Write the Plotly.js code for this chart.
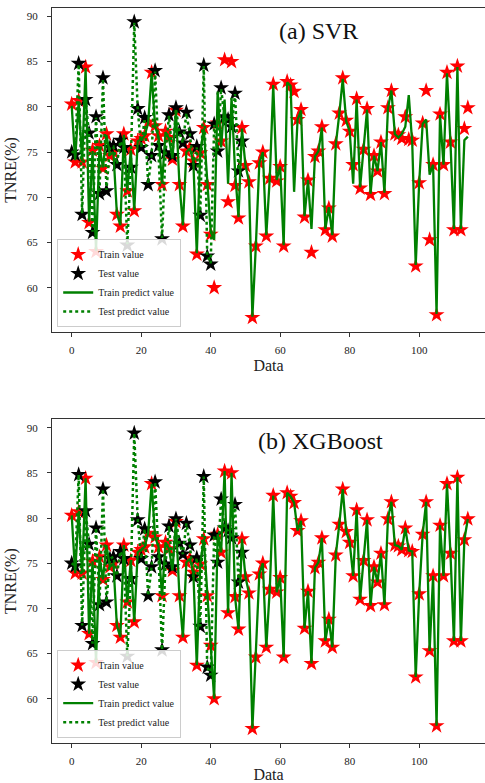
<!DOCTYPE html>
<html><head><meta charset="utf-8">
<script src="https://cdn.plot.ly/plotly-3.0.1.min.js"></script>
<style>html,body{margin:0;padding:0;background:#fff}</style>
</head><body><div id="chart" style="width:485px;height:783px"></div>
<script>
// Measured values (TNRE %), train set plotted against its own index, test set against its own index
const trainValue = [80.3,73.9,80.7,73.9,84.4,67.2,75.2,64.0,75.7,73.2,
 77.0,74.6,75.0,68.1,66.8,77.0,70.7,75.3,68.5,76.2,
 76.5,76.8,78.3,83.8,77.9,76.8,71.4,77.3,76.6,74.2,
 79.6,71.4,66.8,75.1,75.5,74.0,63.7,74.9,77.7,71.4,
 65.9,60.0,78.2,76.2,85.2,69.5,85.0,71.3,67.7,77.7,
 73.5,71.7,56.7,64.6,73.8,75.0,65.7,72.1,82.5,71.8,
 73.4,64.6,82.8,82.4,81.7,78.6,79.7,67.8,71.9,63.9,
 74.5,75.1,77.8,66.4,68.8,65.7,75.9,79.3,83.2,78.5,
 77.3,73.6,80.9,71.0,75.3,79.8,70.3,74.6,72.9,76.1,
 70.4,79.9,81.8,77.0,76.9,76.5,78.9,76.4,76.3,62.4,
 71.6,78.2,81.8,65.3,73.6,57.0,79.2,73.6,83.8,76.1,
 66.4,84.5,66.4,77.6,79.9];

const testValue = [75.0,74.7,84.8,68.1,80.8,77.1,66.1,78.9,70.4,83.2,
 70.7,75.5,75.7,73.6,76.3,75.5,64.7,73.3,89.4,79.8,
 75.5,78.8,71.4,74.6,84.0,75.7,65.4,74.9,79.1,74.6,
 79.9,77.2,76.0,79.4,77.0,73.5,75.6,68.0,84.6,63.5,
 62.6,78.1,75.1,82.1,78.9,78.6,77.8,81.5,72.9,76.2];

// SVR predictions
const svrTrainPred = [80.1,74.1,80.6,74.0,84.3,67.3,75.1,64.1,75.6,73.3,
 76.9,74.7,75.0,68.2,66.9,76.9,70.8,75.2,68.6,76.2,
 76.4,76.8,78.2,83.7,77.8,76.7,71.5,77.2,76.5,74.3,
 79.5,71.5,66.9,75.0,75.4,74.0,63.8,74.9,77.6,71.5,
 66.2,65.3,81.7,75.5,80.8,71.5,81.0,73.0,67.8,77.6,
 73.5,71.8,56.8,64.7,73.8,75.0,65.8,72.1,82.4,71.9,
 73.4,64.7,82.7,82.3,70.6,78.6,79.6,67.9,71.9,66.5,
 74.5,75.1,77.7,66.5,68.9,65.8,75.8,79.2,83.1,78.4,
 77.3,71.5,80.8,71.1,75.3,79.7,70.4,74.6,72.9,76.1,
 70.5,79.8,81.8,77.0,76.6,77.0,77.8,81.3,76.0,62.5,
 71.6,78.1,78.6,72.5,73.6,57.1,79.1,73.6,83.7,76.1,
 66.5,84.4,66.5,76.3,76.7];
const svrTestPred = [75.1,74.8,84.7,68.2,80.7,77.0,66.2,78.8,70.5,83.1,
 70.8,75.5,75.6,73.7,76.2,75.4,64.8,73.4,89.3,79.7,
 75.5,78.7,71.5,74.6,83.9,75.6,65.5,74.9,79.0,74.7,
 79.8,77.1,76.0,79.3,77.0,73.6,75.5,68.1,84.5,63.6,
 62.7,78.0,75.1,82.0,78.8,78.5,77.8,81.4,73.0,76.2];

// XGBoost predictions
const xgbTrainPred = [80.3,73.9,80.7,73.9,84.4,67.2,75.2,64.0,75.7,73.2,
 77.0,74.6,75.0,68.1,66.8,77.0,70.7,75.3,68.5,76.2,
 76.5,76.8,78.3,83.8,77.9,76.8,71.4,77.3,76.6,74.2,
 79.6,71.4,66.8,75.1,75.5,74.0,63.7,74.9,77.7,71.4,
 65.9,60.0,78.2,76.2,85.2,69.5,85.0,71.3,67.7,77.7,
 73.5,71.7,56.7,64.6,73.8,75.0,65.7,72.1,82.5,71.8,
 73.4,64.6,82.8,82.4,81.7,78.6,79.7,67.8,71.9,63.9,
 74.5,75.1,77.8,66.4,68.8,65.7,75.9,79.3,83.2,78.5,
 77.3,73.6,80.9,71.0,75.3,79.8,70.3,74.6,72.9,76.1,
 70.4,79.9,81.8,77.0,76.9,76.5,78.9,76.4,76.3,62.4,
 71.6,78.2,81.8,65.3,73.6,57.0,79.2,73.6,83.8,76.1,
 66.4,84.5,66.4,77.6,79.9];
const xgbTestPred = [75.0,74.7,84.8,68.1,80.8,77.1,66.1,78.9,70.4,83.2,
 70.7,75.5,75.7,73.6,76.3,75.5,64.7,73.3,89.4,79.8,
 75.5,78.8,71.4,74.6,84.0,75.7,65.4,74.9,79.1,74.6,
 79.9,77.2,76.0,79.4,77.0,73.5,75.6,68.0,84.6,63.5,
 62.6,78.1,75.1,82.1,78.9,78.6,77.8,81.5,72.9,76.2];

const xTickVals = [0,20,40,60,80,100];
const yTickVals = [60,65,70,75,80,85,90];
const panelTitles = ['(a) SVR', '(b) XGBoost'];
const legendNames = ['Train value','Test value','Train predict value','Test predict value'];
const xTitle = 'Data';
const yTitle = 'TNRE(%)';

const FONT = '"Liberation Serif", "Times New Roman", serif';
const idx = arr => arr.map((_, i) => i);

function panelTraces(trainPred, testPred, xa, ya, lg) {
  return [
    {x: idx(trainValue), y: trainValue, type: 'scatter', mode: 'markers', name: legendNames[0],
     xaxis: xa, yaxis: ya, legend: lg,
     marker: {symbol: 'star', size: 12, color: '#ff0000', line: {width: 0}}},
    {x: idx(testValue), y: testValue, type: 'scatter', mode: 'markers', name: legendNames[1],
     xaxis: xa, yaxis: ya, legend: lg,
     marker: {symbol: 'star', size: 12, color: '#000000', line: {width: 0}}},
    {x: idx(trainPred), y: trainPred, type: 'scatter', mode: 'lines', name: legendNames[2],
     xaxis: xa, yaxis: ya, legend: lg,
     line: {color: '#008000', width: 2.3}},
    {x: idx(testPred), y: testPred, type: 'scatter', mode: 'lines', name: legendNames[3],
     xaxis: xa, yaxis: ya, legend: lg,
     line: {color: '#008000', width: 2.5, dash: 'dot'}}
  ];
}

const data = [
  ...panelTraces(svrTrainPred, svrTestPred, 'x', 'y', 'legend'),
  ...panelTraces(xgbTrainPred, xgbTestPred, 'x2', 'y2', 'legend2')
];

const axisCommon = {
  showline: true, linecolor: '#333', linewidth: 1,
  ticks: 'outside', ticklen: 4, tickwidth: 1, tickcolor: '#333',
  showgrid: false, zeroline: false,
  tickfont: {family: FONT, size: 11, color: '#222'}
};

function xax(anchor) {
  return Object.assign({}, axisCommon, {
    anchor: anchor, domain: [0, 1], range: [-5.67, 118.94],
    tickmode: 'array', tickvals: xTickVals, mirror: true,
    ticklabelstandoff: 4,
    title: {text: xTitle, font: {family: FONT, size: 16, color: '#222'}, standoff: 4}
  });
}
function yax(anchor, dom) {
  return Object.assign({}, axisCommon, {
    anchor: anchor, domain: dom, range: [55.1, 90.93],
    tickmode: 'array', tickvals: yTickVals,
    ticklabelstandoff: 7,
    title: {text: yTitle, font: {family: FONT, size: 16, color: '#222'}, standoff: 6}
  });
}

const legendCommon = {
  xanchor: 'left', yanchor: 'bottom', x: 0.012,
  bgcolor: 'rgba(255,255,255,0.85)', bordercolor: '#cccccc', borderwidth: 1,
  font: {family: FONT, size: 10, color: '#222'}, tracegroupgap: 0, itemwidth: 30
};

const layout = {
  width: 485, height: 783,
  margin: {l: 52, r: 0, t: 8, b: 40},
  paper_bgcolor: '#fff', plot_bgcolor: '#fff',
  font: {family: FONT, color: '#222'},
  showlegend: true,
  xaxis: xax('y'),
  yaxis: yax('x', [0.5592, 1]),
  xaxis2: xax('y2'),
  yaxis2: yax('x2', [0, 0.4404]),
  legend: Object.assign({}, legendCommon, {y: 0.566}),
  legend2: Object.assign({}, legendCommon, {y: 0.0072}),
  annotations: [
    {text: panelTitles[0], xref: 'paper', yref: 'paper', x: 0.6166, y: 0.9687,
     xanchor: 'center', yanchor: 'middle', showarrow: false, bgcolor: '#fff',
     font: {family: FONT, size: 24, color: '#111'}},
    {text: panelTitles[1], xref: 'paper', yref: 'paper', x: 0.6208, y: 0.4109,
     xanchor: 'center', yanchor: 'middle', showarrow: false, bgcolor: '#fff',
     font: {family: FONT, size: 24, color: '#111'}}
  ]
};

Plotly.newPlot('chart', data, layout, {displayModeBar: false, staticPlot: true});
</script></body></html>
